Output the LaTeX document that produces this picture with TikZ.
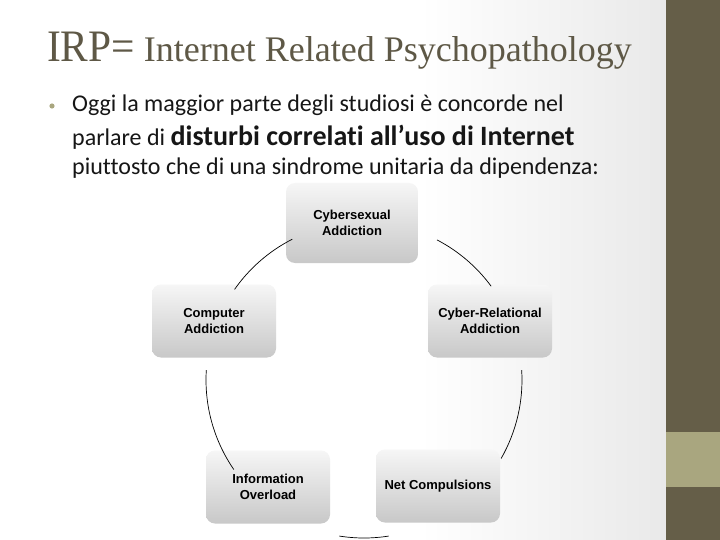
\documentclass[tikz,border=0pt]{standalone}
\usepackage{fontspec}
\usepackage{tikz}
\usepackage{xcolor}
\setmainfont{Carlito}[Ligatures=NoCommon]
\newfontfamily\titlefont{Liberation Serif}
\newfontfamily\irpfont[FakeStretch=0.92]{Liberation Serif}
\newfontfamily\boxfont{Liberation Sans}
\definecolor{slideOlive}{RGB}{101,94,72}
\definecolor{slideSage}{RGB}{169,166,127}
\definecolor{slideGray}{RGB}{233,233,233}
\definecolor{titleBrown}{RGB}{94,88,70}
\definecolor{textBlack}{RGB}{22,22,22}
\definecolor{boxTop}{RGB}{246,246,246}
\definecolor{boxBottom}{RGB}{200,200,200}

\begin{document}
\begin{tikzpicture}[
    x=1pt, y=-1pt,
    cycbox/.style={rectangle, rounded corners=9pt, top color=boxTop, bottom color=boxBottom, minimum width=124pt, minimum height=73pt, align=center, inner sep=2pt, font=\boxfont\bfseries\fontsize{13}{16}\selectfont},
    bodyline/.style={anchor=base west, inner sep=0pt, text=textBlack, font=\fontsize{24}{29}\selectfont},
    cycarc/.style={draw=black, line width=0.7pt}
]
\useasboundingbox (0,0) rectangle (720,540);

% Slide background
\fill[white] (0,0) rectangle (666,540);
\shade[left color=white, right color=slideGray] (420,0) rectangle (666,540);
\fill[slideOlive] (666,0) rectangle (720,540);
\fill[slideSage] (666,432) rectangle (720,487);

% Title
\node[anchor=base west, inner sep=0pt, text=titleBrown] (title) at (47,62)
    {{\irpfont\fontsize{45}{50}\selectfont IRP=}{\titlefont\fontsize{36}{40}\selectfont{} Internet Related Psychopathology}};

% Bullet text
\fill[slideSage] (52,106) circle (2.6);
\node[bodyline] (line1) at (72,112) {Oggi la maggior parte degli studiosi è concorde nel};
\node[bodyline] (line2) at (72,146) {parlare di {\bfseries\fontsize{28}{34}\selectfont disturbi correlati all’uso di Internet}};
\node[bodyline] (line3) at (72,175) {piuttosto che di una sindrome unitaria da dipendenza:};

% Cycle boxes
\node[cycbox, minimum width=132pt, minimum height=80pt] (cybersex) at (352,223) {Cybersexual\\Addiction};
\node[cycbox] (computer) at (214,321) {Computer\\Addiction};
\node[cycbox] (cyberrel) at (490,321) {Cyber-Relational\\Addiction};
\node[cycbox] (infoover) at (268,487) {Information\\Overload};
\node[cycbox] (netcomp)  at (438,486) {Net Compulsions};

% Cycle arcs
\coordinate (cyc) at (364,380);
\draw[cycarc] (cyc) ++(215:158) arc[start angle=215, end angle=243, radius=158];
\draw[cycarc] (cyc) ++(297.5:158) arc[start angle=297.5, end angle=323.6, radius=158];
\draw[cycarc] (cyc) ++(-3.6:158) arc[start angle=-3.6, end angle=29.8, radius=158];
\draw[cycarc] (cyc) ++(81:158) arc[start angle=81, end angle=99, radius=158];
\draw[cycarc] (cyc) ++(145.5:158) arc[start angle=145.5, end angle=183.6, radius=158];

\end{tikzpicture}
\end{document}
